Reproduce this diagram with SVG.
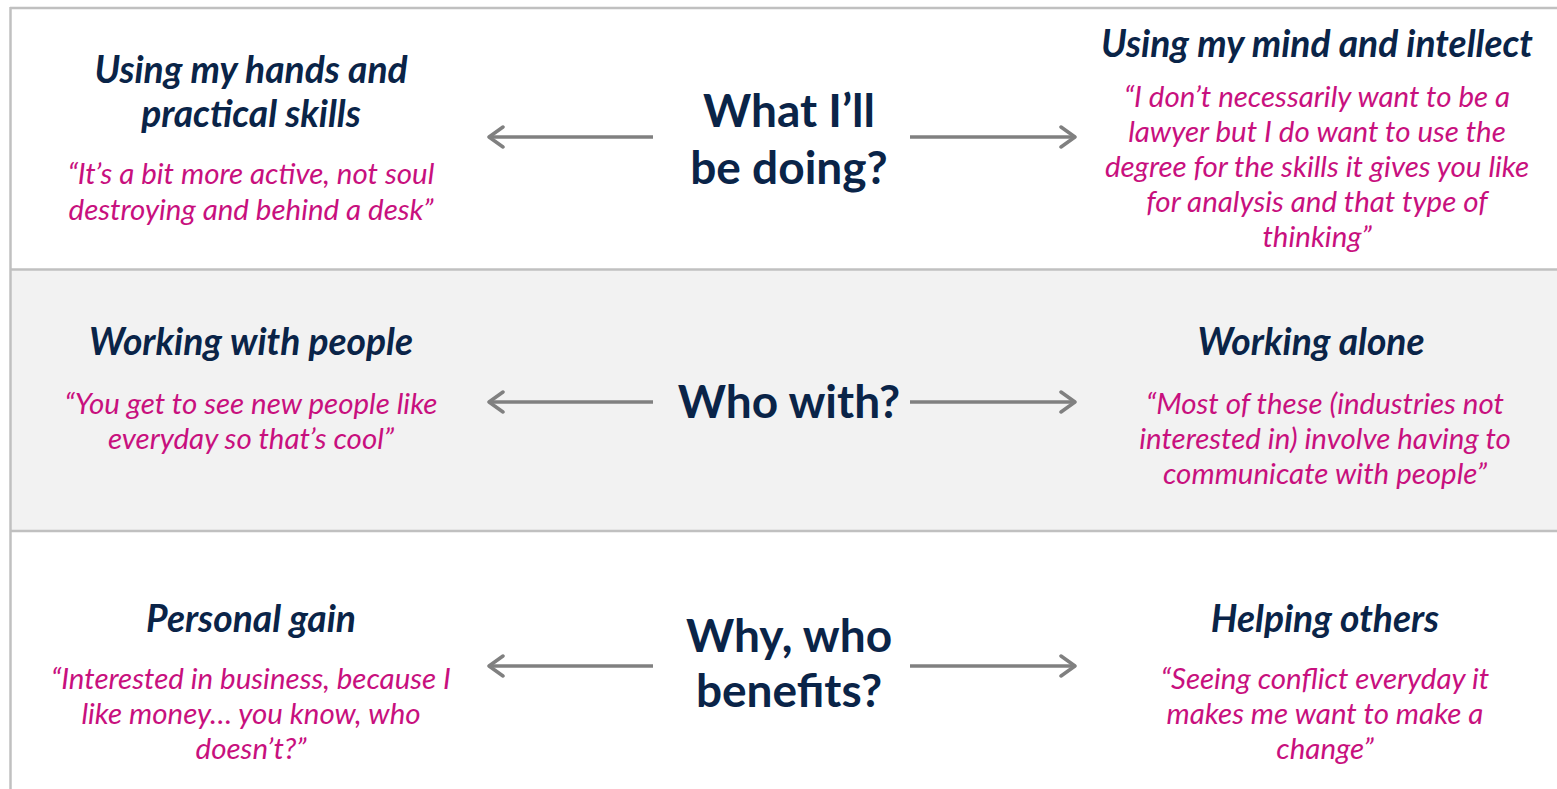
<svg xmlns="http://www.w3.org/2000/svg" width="1557" height="789" viewBox="0 0 1557 789">
<defs>
<style>
.t{font-family:Lato,"Open Sans",sans-serif;font-weight:bold;font-style:italic;font-size:37.2px;fill:#0a2448;text-anchor:middle}
.q{font-family:Lato,"Open Sans",sans-serif;font-style:italic;font-size:29.5px;fill:#c8107e;text-anchor:middle}
.c{font-family:Lato,"Open Sans",sans-serif;font-weight:bold;font-size:46px;fill:#0a2448;text-anchor:middle}
.a{stroke:#808080;stroke-width:3.5;fill:none}
.b{stroke:#c0c0c0;stroke-width:2.5;fill:none}
</style>
<marker id="ah" viewBox="0 0 20 24" refX="17" refY="12" markerWidth="20" markerHeight="24" markerUnits="userSpaceOnUse" orient="auto">
<path d="M3,2 L17,12 L3,22" fill="none" stroke="#808080" stroke-width="3.5" stroke-linecap="round" stroke-linejoin="round"/>
</marker>
</defs>
<rect x="0" y="0" width="1557" height="789" fill="#ffffff"/>
<rect x="10" y="269" width="1547" height="262" fill="#f2f2f2"/>
<g id="frame">
<line class="b" x1="10" y1="8" x2="1557" y2="8"/>
<line class="b" x1="10.5" y1="7" x2="10.5" y2="789"/>
<line class="b" x1="10" y1="269.5" x2="1557" y2="269.5"/>
<line class="b" x1="10" y1="531" x2="1557" y2="531"/>
</g>
<g id="connectors">
<line class="a" x1="653" y1="137" x2="489" y2="137" marker-end="url(#ah)"/>
<line class="a" x1="910" y1="137" x2="1075" y2="137" marker-end="url(#ah)"/>
<line class="a" x1="653" y1="402" x2="489" y2="402" marker-end="url(#ah)"/>
<line class="a" x1="910" y1="402" x2="1075" y2="402" marker-end="url(#ah)"/>
<line class="a" x1="653" y1="666" x2="489" y2="666" marker-end="url(#ah)"/>
<line class="a" x1="910" y1="666" x2="1075" y2="666" marker-end="url(#ah)"/>
</g>
<g id="center-doing">
<text class="c" x="789" y="127">What I’ll</text>
<text class="c" x="789" y="184">be doing?</text>
</g>
<g id="center-who">
<text class="c" x="789" y="418">Who with?</text>
</g>
<g id="center-why">
<text class="c" x="789" y="652">Why, who</text>
<text class="c" x="789" y="707">benefits?</text>
</g>
<g id="hands">
<text class="t" x="251" y="83">Using my hands and</text>
<text class="t" x="251" y="127">practical skills</text>
<text class="q" x="251" y="184">“It’s a bit more active, not soul</text>
<text class="q" x="251" y="220">destroying and behind a desk”</text>
</g>
<g id="mind">
<text class="t" x="1317" y="57">Using my mind and intellect</text>
<text class="q" x="1317" y="107">“I don’t necessarily want to be a</text>
<text class="q" x="1317" y="142">lawyer but I do want to use the</text>
<text class="q" x="1317" y="177">degree for the skills it gives you like</text>
<text class="q" x="1317" y="212">for analysis and that type of</text>
<text class="q" x="1317" y="247">thinking”</text>
</g>
<g id="people">
<text class="t" x="251" y="355">Working with people</text>
<text class="q" x="251" y="414">“You get to see new people like</text>
<text class="q" x="251" y="449">everyday so that’s cool”</text>
</g>
<g id="alone">
<text class="t" x="1311" y="355">Working alone</text>
<text class="q" x="1325" y="414">“Most of these (industries not</text>
<text class="q" x="1325" y="449">interested in) involve having to</text>
<text class="q" x="1325" y="484">communicate with people”</text>
</g>
<g id="gain">
<text class="t" x="251" y="632">Personal gain</text>
<text class="q" x="251" y="689">“Interested in business, because I</text>
<text class="q" x="251" y="724">like money… you know, who</text>
<text class="q" x="251" y="759">doesn’t?”</text>
</g>
<g id="helping">
<text class="t" x="1325" y="632">Helping others</text>
<text class="q" x="1325" y="689">“Seeing conflict everyday it</text>
<text class="q" x="1325" y="724">makes me want to make a</text>
<text class="q" x="1325" y="759">change”</text>
</g>
</svg>
